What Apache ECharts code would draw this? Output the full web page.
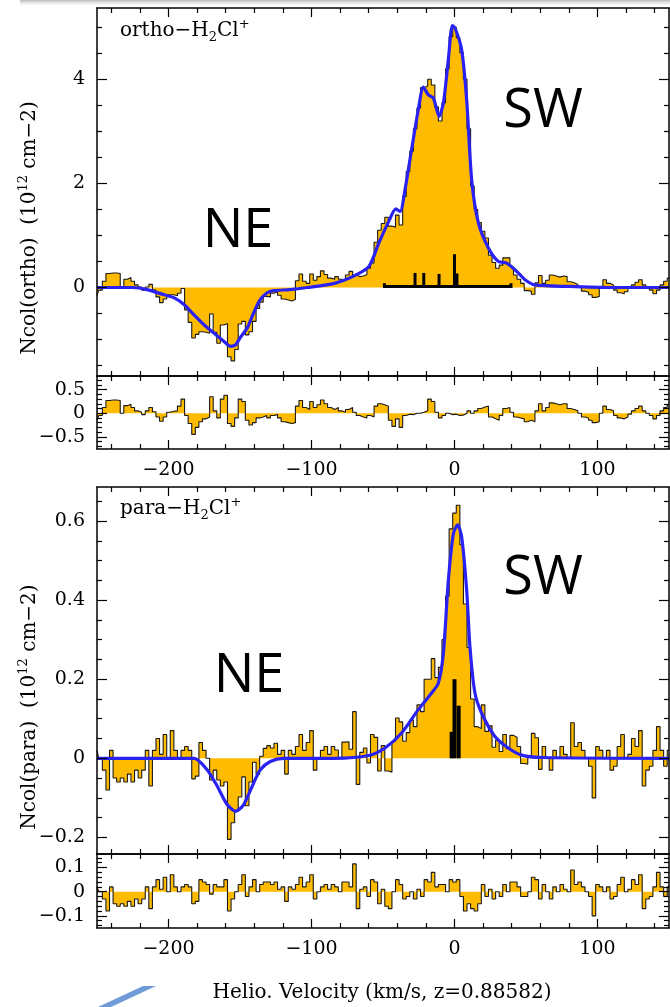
<!DOCTYPE html>
<html>
<head>
<meta charset="utf-8">
<title>H2Cl+ column density</title>
<style>html,body{margin:0;padding:0;background:#fff;}</style>
</head>
<body>
<div id="main" style="width:670px;height:1007px;"></div>
<script src="https://cdn.jsdelivr.net/npm/echarts@6/dist/echarts.min.js"></script>
<script>
// velocity grid of the spectra (km/s)
var vStart = -250, dv = 2.5;

// ortho-H2Cl+ column density per channel (1e12 cm-2)
var orthoData = [
  -0.15,-0.05,0.12,0.27,0.28,0.28,0.27,0.0,0.16,0.19,
  0.12,0.05,0.01,-0.05,0.01,0.06,-0.05,-0.18,-0.29,-0.22,
  -0.14,-0.14,-0.16,-0.11,-0.02,-0.43,-0.67,-0.97,-0.9,-0.85,
  -0.86,-0.88,-0.51,-0.86,-1.07,-0.72,-0.69,-1.33,-1.41,-1.19,
  -0.7,-0.65,-0.91,-0.85,-0.65,-0.4,-0.28,-0.17,-0.18,-0.11,
  -0.08,-0.15,-0.22,-0.24,-0.26,-0.23,0.13,0.26,0.12,0.08,
  0.26,0.14,0.21,0.32,0.25,0.18,0.16,0.21,0.16,0.15,
  0.24,0.31,0.24,0.21,0.22,0.25,0.37,0.47,0.87,1.1,
  1.23,1.35,1.18,1.16,1.39,1.2,1.75,2.23,2.62,3.05,
  3.45,3.84,3.87,4.0,3.89,3.47,3.2,3.55,4.2,4.82,
  5.0,4.8,4.51,4.0,3.05,1.95,1.5,1.25,1.08,0.95,
  0.62,0.48,0.37,0.43,0.57,0.57,0.4,0.24,0.16,0.08,
  -0.06,-0.07,-0.13,0.09,0.23,0.08,0.14,0.24,0.22,0.2,
  0.22,0.21,0.11,0.09,0.06,0.01,-0.07,-0.09,-0.14,-0.19,
  -0.17,0.01,0.15,0.08,0.05,-0.05,-0.1,-0.12,-0.08,-0.02,
  0.05,0.1,0.15,0.05,0.0,-0.05,-0.12,-0.05,0.05,0.12,
  0.18
];
var orthoResid = [
  -0.15,-0.05,0.12,0.27,0.28,0.28,0.27,0.0,0.16,0.19,
  0.12,0.05,0.02,-0.03,0.05,0.12,0.03,-0.08,-0.17,-0.08,
  0.02,0.04,0.05,0.15,0.3,-0.05,-0.22,-0.45,-0.3,-0.18,
  -0.12,-0.08,0.35,0.05,-0.1,0.3,0.38,-0.22,-0.28,-0.1,
  0.3,0.25,-0.15,-0.25,-0.2,-0.1,-0.08,-0.05,-0.1,-0.05,
  -0.03,-0.1,-0.18,-0.2,-0.22,-0.2,0.15,0.27,0.12,0.08,
  0.25,0.12,0.18,0.28,0.2,0.12,0.08,0.12,0.05,0.02,
  0.08,0.12,0.02,-0.05,-0.08,-0.1,-0.05,-0.08,0.15,0.2,
  0.18,0.15,-0.15,-0.28,-0.12,-0.3,-0.05,-0.02,-0.03,0.0,
  0.0,0.02,0.05,0.3,0.25,0.02,-0.1,-0.05,0.0,-0.03,
  -0.02,-0.05,-0.04,0.0,0.05,0.0,0.05,0.1,0.13,0.15,
  -0.08,-0.12,-0.15,-0.05,0.1,0.12,0.02,-0.08,-0.1,-0.12,
  -0.18,-0.15,-0.18,0.05,0.2,0.05,0.12,0.22,0.2,0.18,
  0.2,0.2,0.1,0.08,0.05,0.0,-0.08,-0.1,-0.15,-0.2,
  -0.18,0.0,0.15,0.08,0.05,-0.05,-0.1,-0.12,-0.08,-0.02,
  0.05,0.1,0.15,0.05,0.0,-0.05,-0.12,-0.05,0.05,0.12,
  0.18
];
// fitted model (blue), read at irregular velocities
var orthoFitVel = [-250,-225,-215,-203,-196,-189,-182,-175,-168,-161,-156.5,-153,-150,-145,-140.5,-136,-131,-126.5,-115,-103,
  -84,-72,-60,-53,-46,-41,-38,-34.6,-30,-25.3,-21.8,-18.3,-14.8,-10.8,-7.8,-4.3,-1.5,0.3,5,8.5,
  12,16.7,23.7,30.7,36.5,43.5,49.3,56.3,80,110,150];
var orthoFitVal = [0,0,-0.04,-0.14,-0.2,-0.33,-0.53,-0.72,-0.88,-1.04,-1.13,-1.1,-0.97,-0.78,-0.49,-0.24,-0.1,-0.06,-0.04,0,
  0.08,0.2,0.4,0.85,1.27,1.51,1.46,1.88,2.65,3.42,3.85,3.7,3.64,3.29,3.54,4.38,5.03,4.99,4.57,3.61,
  2.07,1.24,0.76,0.5,0.47,0.31,0.15,0.05,0.02,0,0];
// velocity components (black sticks)
var orthoHfVel = [-27.6, -21.5, -10.8, 0, 1.7];
var orthoHfHeight = [0.28, 0.28, 0.26, 0.64, 0.27];
var orthoHfSpan = [-49, 39.5];

// para-H2Cl+
var paraData = [
  0.02,0.0,-0.03,-0.08,0.02,-0.05,-0.06,-0.05,-0.06,-0.04,
  -0.06,-0.03,-0.05,-0.03,0.02,-0.07,0.02,0.05,0.01,0.06,
  0.0,0.07,0.02,0.0,0.02,0.03,0.02,-0.052,-0.045,0.04,
  0.02,0.0,-0.055,-0.03,-0.055,-0.07,-0.06,-0.205,-0.163,-0.134,
  -0.098,-0.047,-0.12,-0.06,-0.01,-0.04,0.005,0.025,0.032,0.026,
  0.038,0.01,0.02,-0.04,0.02,0.01,0.03,0.06,0.02,0.04,
  0.07,-0.03,0.0,0.02,0.03,0.01,0.03,0.021,0.001,0.041,
  0.042,0.023,0.118,-0.066,0.015,0.026,-0.012,0.06,0.053,-0.032,
  0.032,-0.032,-0.035,0.043,0.102,0.092,0.043,0.065,0.097,0.08,
  0.135,0.118,0.2,0.2,0.252,0.204,0.23,0.3,0.41,0.58,
  0.62,0.64,0.54,0.39,0.28,0.15,0.08,0.075,0.135,0.068,
  0.082,0.028,0.046,0.017,0.06,0.024,0.058,0.053,0.03,-0.013,
  -0.015,0.004,0.063,0.052,-0.028,0.03,0.0,-0.03,0.02,0.0,
  0.03,0.01,0.0,0.09,0.03,0.04,0.02,0.0,-0.02,-0.1,
  0.03,0.02,0.0,0.02,-0.03,-0.02,0.03,0.06,0.0,0.01,
  0.05,0.03,0.07,-0.07,-0.03,-0.02,0.02,0.08,0.02,-0.02,
  0.02
];
var paraResid = [
  0.02,0.0,-0.03,-0.08,0.02,-0.05,-0.06,-0.05,-0.06,-0.04,
  -0.06,-0.03,-0.05,-0.03,0.02,-0.07,0.02,0.05,0.01,0.06,
  0.0,0.07,0.02,0.0,0.02,0.03,0.02,-0.05,-0.04,0.05,
  0.04,0.03,-0.01,0.03,0.02,0.02,0.05,-0.08,-0.03,0.0,
  0.03,0.07,-0.02,0.02,0.05,0.0,0.03,0.04,0.04,0.03,
  0.04,0.01,0.02,-0.04,0.02,0.01,0.03,0.06,0.02,0.04,
  0.07,-0.03,0.0,0.02,0.03,0.01,0.03,0.02,0.0,0.04,
  0.04,0.02,0.115,-0.07,0.01,0.02,-0.02,0.05,0.04,-0.05,
  0.01,-0.06,-0.07,0.0,0.05,0.03,-0.03,-0.02,0.0,-0.03,
  0.01,-0.02,0.05,0.04,0.08,0.02,0.03,0.03,0.0,0.05,
  0.04,0.05,-0.02,-0.08,-0.05,-0.07,-0.08,-0.05,0.03,-0.02,
  0.01,-0.03,0.0,-0.02,0.03,0.0,0.04,0.04,0.02,-0.02,
  -0.02,0.0,0.06,0.05,-0.03,0.03,0.0,-0.03,0.02,0.0,
  0.03,0.01,0.0,0.09,0.03,0.04,0.02,0.0,-0.02,-0.1,
  0.03,0.02,0.0,0.02,-0.03,-0.02,0.03,0.06,0.0,0.01,
  0.05,0.03,0.07,-0.07,-0.03,-0.02,0.02,0.08,0.02,-0.02,
  0.02
];
var paraFitVel = [-250,-182,-173,-166,-159,-153,-147.4,-140.4,-135.8,-128.8,-119.5,-84,-60,-48.6,-37,-25.3,-16,-11.3,-7.8,-4.3,
  -0.8,2.2,5,8.5,10.8,14.3,19,28.3,37.6,47,61,150];
var paraFitVal = [0,0,-0.029,-0.07,-0.117,-0.134,-0.117,-0.062,-0.029,-0.008,0,0,0.007,0.026,0.064,0.123,0.165,0.19,0.265,0.45,
  0.568,0.59,0.56,0.425,0.282,0.165,0.114,0.055,0.026,0.008,0.002,0];
var paraHfVel = [-2, 0, 2.9];
var paraHfHeight = [0.067, 0.2, 0.133];

// axes ticks
var xMajor = [-200, -100, 0, 100];
var xMinor = [-240,-220,-180,-160,-140,-120,-80,-60,-40,-20,20,40,60,80,120,140];
var panels = [
  {top: 8, height: 368, yMin: -1.70, yMax: 5.37, yMajor: [0, 2, 4],
   yMinor: [-1.5,-1,-0.5,0.5,1,1.5,2.5,3,3.5,4.5,5], xLabels: false},
  {top: 376, height: 73, yMin: -0.76, yMax: 0.79, yMajor: [-0.5, 0, 0.5],
   yMinor: [-0.7,-0.6,-0.4,-0.3,-0.2,-0.1,0.1,0.2,0.3,0.4,0.6,0.7], xLabels: true},
  {top: 487, height: 367, yMin: -0.242, yMax: 0.686, yMajor: [-0.2, 0, 0.2, 0.4, 0.6],
   yMinor: [-0.15,-0.1,-0.05,0.05,0.1,0.15,0.25,0.3,0.35,0.45,0.5,0.55,0.65], xLabels: false},
  {top: 854, height: 74, yMin: -0.15, yMax: 0.156, yMajor: [-0.1, 0, 0.1],
   yMinor: [-0.14,-0.12,-0.08,-0.06,-0.04,-0.02,0.02,0.04,0.06,0.08,0.12,0.14], xLabels: true}
];

var SERIF = 'DejaVu Serif';
function fmt(v) {
  return String(Math.round(v * 100) / 100).replace('-', '\u2212');
}
function vel(arr) {
  return arr.map(function (_, i) { return vStart + i * dv; });
}

var chart = echarts.init(document.getElementById('main'));
var grid = [], xAxis = [], yAxis = [], series = [];

panels.forEach(function (p, g) {
  grid.push({left: 97, right: 1, top: p.top, height: p.height});
  var frameLine = {show: true, onZero: false, lineStyle: {color: '#000', width: 1.5}};
  var noLine = {show: false, onZero: false};
  function tick(vals, len) {
    return {show: true, inside: true, length: len, customValues: vals, lineStyle: {color: '#000', width: 1.2}};
  }
  var lab = {show: true, fontFamily: SERIF, fontSize: 19, color: '#000', margin: 12, formatter: fmt};
  var xb = {gridIndex: g, type: 'value', min: -250, max: 150, splitLine: {show: false}, z: 10};
  xAxis.push(Object.assign({}, xb, {position: 'bottom', axisLine: frameLine, axisTick: tick(xMajor, 9),
    axisLabel: p.xLabels ? Object.assign({customValues: xMajor}, lab) : {show: false}}));
  xAxis.push(Object.assign({}, xb, {position: 'bottom', axisLine: noLine, axisTick: tick(xMinor, 5), axisLabel: {show: false}}));
  xAxis.push(Object.assign({}, xb, {position: 'top', axisLine: frameLine, axisTick: tick(xMajor, 9), axisLabel: {show: false}}));
  xAxis.push(Object.assign({}, xb, {position: 'top', axisLine: noLine, axisTick: tick(xMinor, 5), axisLabel: {show: false}}));
  var yb = {gridIndex: g, type: 'value', min: p.yMin, max: p.yMax, splitLine: {show: false}, z: 10};
  yAxis.push(Object.assign({}, yb, {position: 'left', axisLine: frameLine, axisTick: tick(p.yMajor, 10),
    axisLabel: Object.assign({customValues: p.yMajor}, lab)}));
  yAxis.push(Object.assign({}, yb, {position: 'left', axisLine: noLine, axisTick: tick(p.yMinor, 5), axisLabel: {show: false}}));
  yAxis.push(Object.assign({}, yb, {position: 'right', axisLine: frameLine, axisTick: tick(p.yMajor, 10), axisLabel: {show: false}}));
  yAxis.push(Object.assign({}, yb, {position: 'right', axisLine: noLine, axisTick: tick(p.yMinor, 5), axisLabel: {show: false}}));
});

function histo(g, arr) {
  var v = vel(arr);
  return {
    type: 'line', xAxisIndex: 4 * g, yAxisIndex: 4 * g, step: 'middle', symbol: 'none',
    data: arr.map(function (y, i) { return [v[i], y]; }),
    lineStyle: {color: '#1a1a1a', width: 1.1},
    areaStyle: {color: '#ffbb00', opacity: 1},
    z: 2
  };
}
function fit(g, xs, ys) {
  return {
    type: 'line', xAxisIndex: 4 * g, yAxisIndex: 4 * g, smooth: 0.25, symbol: 'none',
    data: xs.map(function (x, i) { return [x, ys[i]]; }),
    lineStyle: {color: '#2a22f2', width: 3.2},
    z: 6
  };
}
function sticks(g, xs, hs, w) {
  return {
    type: 'custom', xAxisIndex: 4 * g, yAxisIndex: 4 * g, z: 5,
    data: xs.map(function (x, i) { return [x, hs[i]]; }),
    renderItem: function (params, api) {
      var p0 = api.coord([api.value(0), 0]);
      var p1 = api.coord([api.value(0), api.value(1)]);
      return {type: 'line', shape: {x1: p0[0], y1: p0[1], x2: p1[0], y2: p1[1]},
        style: {stroke: '#000', lineWidth: w}};
    }
  };
}
function span(g, s, cap) {
  return {
    type: 'custom', xAxisIndex: 4 * g, yAxisIndex: 4 * g, z: 5,
    data: [[s[0], s[1]]],
    renderItem: function (params, api) {
      var a = api.coord([api.value(0), 0.02]);
      var b = api.coord([api.value(1), 0.02]);
      var a2 = api.coord([api.value(0), 0.02 + cap]);
      var b2 = api.coord([api.value(1), 0.02 + cap]);
      return {type: 'polyline', shape: {points: [a2, a, b, b2]},
        style: {stroke: '#000', lineWidth: 3, fill: null}};
    }
  };
}

series.push(histo(0, orthoData));
series.push(span(0, orthoHfSpan, 0.06));
series.push(sticks(0, orthoHfVel, orthoHfHeight, 3));
series.push(fit(0, orthoFitVel, orthoFitVal));
series.push(histo(1, orthoResid));
series.push(histo(2, paraData));
series.push(sticks(2, paraHfVel, paraHfHeight, 4));
series.push(fit(2, paraFitVel, paraFitVal));
series.push(histo(3, paraResid));

var small = {fontFamily: SERIF, fontSize: 13, lineHeight: 13};
var big = {fontFamily: SERIF, fontSize: 20, lineHeight: 26};
function chem(x, y, name) {
  return {type: 'text', x: x, y: y, z: 20, style: {
    text: '{a|' + name + '\u2212H}{b|2}{a|Cl}{c|+}',
    rich: {a: big, b: Object.assign({verticalAlign: 'bottom'}, small), c: Object.assign({verticalAlign: 'top'}, small)},
    verticalAlign: 'middle', fill: '#000'}};
}
function ytitle(x, y, name) {
  return {type: 'text', x: x, y: y, rotation: Math.PI / 2, z: 20, style: {
    text: '{a|Ncol(' + name + ')  (10}{c|12}{a| cm\u22122)}',
    rich: {a: big, c: Object.assign({verticalAlign: 'top'}, small)},
    align: 'center', verticalAlign: 'middle', fill: '#000'}};
}
function region(x, y, t) {
  return {type: 'text', x: x, y: y, z: 20, style: {
    text: t, font: '54px "Open Sans"', align: 'center', verticalAlign: 'middle', fill: '#000'}};
}

chart.setOption({
  animation: false,
  backgroundColor: '#fff',
  grid: grid,
  xAxis: xAxis,
  yAxis: yAxis,
  series: series,
  graphic: [
    {type: 'rect', shape: {x: 20, y: 0, width: 650, height: 7}, z: 1,
     style: {fill: new echarts.graphic.LinearGradient(0, 0, 0, 1, [
       {offset: 0, color: '#b9b9b9'}, {offset: 1, color: 'rgba(255,255,255,0)'}])}},
    {type: 'polygon', shape: {points: [[98, 1007], [111, 1007], [156, 986], [143, 986]]}, z: 1,
     style: {fill: '#6f9bd6'}},
    chem(120, 31, 'ortho'),
    chem(120, 509, 'para'),
    ytitle(30, 228, 'ortho'),
    ytitle(30, 707, 'para'),
    region(238, 232, 'NE'),
    region(543, 112, 'SW'),
    region(249, 677, 'NE'),
    region(543, 579, 'SW'),
    {type: 'text', x: 382, y: 993, z: 20, style: {
      text: 'Helio. Velocity (km/s, z=0.88582)', fontFamily: SERIF, fontSize: 20,
      align: 'center', verticalAlign: 'middle', fill: '#000'}}
  ]
});
</script>
</body>
</html>
